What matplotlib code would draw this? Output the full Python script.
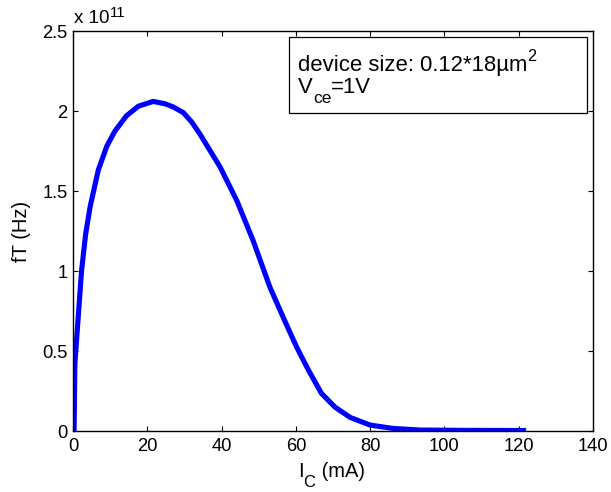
import matplotlib
matplotlib.use("Agg")
import matplotlib.pyplot as plt
from matplotlib.patches import Rectangle

plt.rcParams['font.family'] = ['Liberation Sans', 'DejaVu Sans']

# Collector current (mA) and transit frequency (units of 1e11 Hz)
ic_ma = [0.3, 0.5, 1.4, 2.3, 3.4, 4.6, 6.8, 9.1, 11.3, 14.4, 17.6, 21.6, 24.8,
         27.0, 29.7, 32.0, 34.2, 39.6, 44.1, 48.5, 53.0, 56.6, 60.2, 63.4,
         66.9, 70.5, 74.6, 80.0, 86.2, 93.4, 105.0, 122.0]
ft_e11 = [0.0, 0.42, 0.71, 1.00, 1.23, 1.40, 1.63, 1.78, 1.875, 1.97, 2.03, 2.06,
          2.045, 2.025, 1.99, 1.93, 1.855, 1.65, 1.44, 1.19, 0.90, 0.71, 0.525,
          0.38, 0.235, 0.15, 0.085, 0.037, 0.016, 0.006, 0.004, 0.003]

x_ticks = [0, 20, 40, 60, 80, 100, 120, 140]
y_ticks = [0, 0.5, 1, 1.5, 2, 2.5]
y_tick_labels = ['0', '0.5', '1', '1.5', '2', '2.5']

W, H = 611, 492
fig = plt.figure(figsize=(W / 100, H / 100), dpi=100)
ax = fig.add_axes([73 / W, 61 / H, 520 / W, 400 / H])

ax.plot(ic_ma, ft_e11, color=(0, 0, 1), linewidth=3.7, solid_capstyle='butt',
        solid_joinstyle='round')

ax.set_xlim(0, 140)
ax.set_ylim(0, 2.5)
ax.set_xticks(x_ticks)
ax.set_xticklabels([str(t) for t in x_ticks])
ax.set_yticks(y_ticks)
ax.set_yticklabels(y_tick_labels)
ax.tick_params(direction='in', length=3.6, width=0.8, top=True, right=True,
               labelsize=13.2)
ax.tick_params(axis='x', pad=5)
ax.tick_params(axis='y', pad=4)
for s in ax.spines.values():
    s.set_linewidth(1.0)

ax.set_ylabel('fT (Hz)', fontsize=14.5, labelpad=8)


def run_text(pieces, x, y, coords):
    """Draw text pieces one after another on a shared baseline.

    pieces: list of (string, fontsize, vertical shift in points)."""
    first = None
    prev = None
    for s, size, dy in pieces:
        if prev is None:
            t = ax.annotate(s, xy=(x, y), xycoords=coords,
                            xytext=(0, dy), textcoords='offset points',
                            fontsize=size, ha='left', va='baseline',
                            annotation_clip=False, zorder=6)
            first = t
        else:
            t = ax.annotate(s, xy=(1, y), xycoords=(prev, coords),
                            xytext=(0, dy), textcoords='offset points',
                            fontsize=size, ha='left', va='baseline',
                            annotation_clip=False, zorder=6)
        prev = t
    return first


# x-axis label with a dropped subscript
run_text([('I', 14.5, 0), ('C', 12, -7), (' (mA)', 14.5, 0)],
         298 / W, 15 / H, 'figure fraction')

# exponent of the y axis
run_text([('x 10', 13.5, 0), ('11', 10.8, 4.8)],
         74 / W, (H - 23.3) / H, 'figure fraction')

# annotation box with device info
ax.add_patch(Rectangle((0.415, 0.795), 0.573, 0.19, transform=ax.transAxes,
                       facecolor='white', edgecolor='black', linewidth=0.9,
                       zorder=5))
run_text([('device size: 0.12*18µm', 15.9, 0), ('2', 11.7, 7)],
         0.433, 0.9008, 'axes fraction')
run_text([('V', 15.9, 0), ('ce', 12.5, -7.2), ('=1V', 15.9, 0)],
         0.433, 0.844, 'axes fraction')

fig.savefig('out.png', dpi=100)
